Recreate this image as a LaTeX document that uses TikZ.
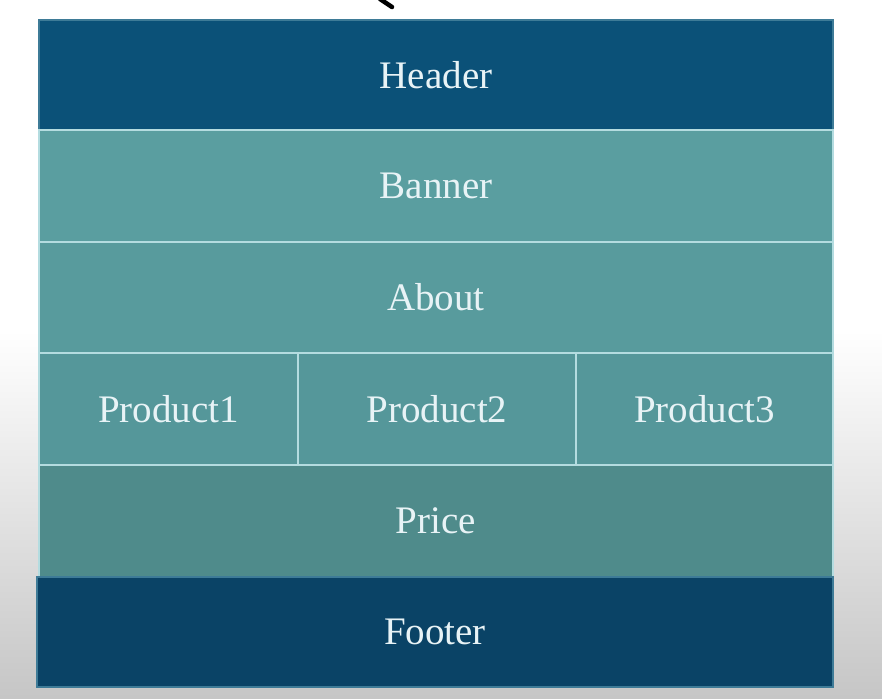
\documentclass[tikz,border=0pt]{standalone}
\usepackage{fontspec}
\setmainfont{Liberation Serif}
\definecolor{bgtop}{HTML}{FFFFFF}
\definecolor{bgbot}{HTML}{C6C6C6}
\definecolor{hdr}{HTML}{0B5178}
\definecolor{ftr}{HTML}{0A4366}
\definecolor{bnr}{HTML}{5A9EA0}
\definecolor{abt}{HTML}{589B9D}
\definecolor{prd}{HTML}{55979A}
\definecolor{prc}{HTML}{4F8B8B}
\definecolor{txt}{HTML}{E8F3F6}
\definecolor{sep}{HTML}{B4DCE0}
\tikzset{
  rowbox/.style={rectangle, inner sep=0pt, draw=sep, line width=1.2pt,
    text=txt, font=\fontsize{39}{44}\selectfont},
  darkbox/.style={rowbox, draw=hdr!70!sep}
}
\begin{document}
\begin{tikzpicture}[x=1pt,y=-1pt]
\useasboundingbox (0,0) rectangle (882,698);
\fill[white] (0,0) rectangle (882,330);
\shade[top color=bgtop, bottom color=bgbot] (0,330) rectangle (882,698);
\draw[line width=4.5pt, line cap=round] (380,-1) -- (392,7);
\node[darkbox, fill=hdr, minimum width=794pt, minimum height=110pt] (header) at (436,75) {Header};
\node[rowbox, fill=bnr, minimum width=794pt, minimum height=112pt] (banner) at (436,186) {Banner};
\node[rowbox, fill=abt, minimum width=794pt, minimum height=111pt] (about) at (436,297.5) {About};
\node[rowbox, fill=prd, minimum width=259pt, minimum height=112pt] (p1) at (168.5,409) {Product1};
\node[rowbox, fill=prd, minimum width=278pt, minimum height=112pt] (p2) at (437,409) {Product2};
\node[rowbox, fill=prd, minimum width=257pt, minimum height=112pt] (p3) at (704.5,409) {Product3};
\node[rowbox, fill=prc, minimum width=794pt, minimum height=112pt] (price) at (436,521) {Price};
\node[darkbox, fill=ftr, minimum width=796pt, minimum height=110pt] (footer) at (435,632) {Footer};
\end{tikzpicture}
\end{document}
